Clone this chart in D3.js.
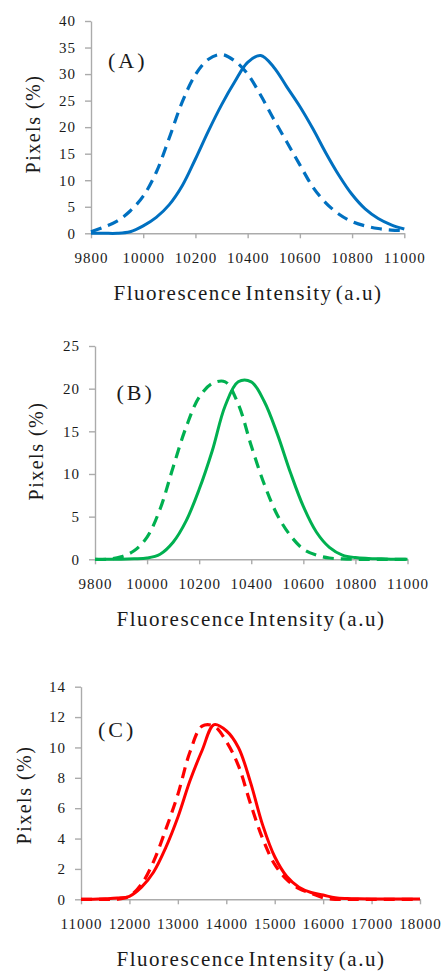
<!DOCTYPE html>
<html>
<head>
<meta charset="utf-8">
<script src="https://cdn.jsdelivr.net/npm/d3@7/dist/d3.min.js"></script>
<style>
  html, body { margin: 0; padding: 0; background: #ffffff; }
  svg { display: block; }
  svg text { font-family: "Liberation Serif", "DejaVu Serif", "Times New Roman", serif; }
</style>
</head>
<body>
<script>
// ---------------- DATA ----------------
const panelLabels = ["(A)", "(B)", "(C)"];
const xTitle = "Fluorescence Intensity (a.u)";
const yTitle = "Pixels (%)";

const xTicksAB = [9800, 10000, 10200, 10400, 10600, 10800, 11000];
const xTicksC = [11000, 12000, 13000, 14000, 15000, 16000, 17000, 18000];
const yTicksA = [0, 5, 10, 15, 20, 25, 30, 35, 40];
const yTicksB = [0, 5, 10, 15, 20, 25];
const yTicksC = [0, 2, 4, 6, 8, 10, 12, 14];

const intensityAB = [9800, 9850, 9900, 9950, 10000, 10050, 10100, 10150, 10200, 10250,
  10300, 10350, 10400, 10450, 10500, 10550, 10600, 10650, 10700, 10750,
  10800, 10850, 10900, 10950, 11000];

const solidA = [0, 0, 0, 0.3, 1.4, 3.0, 5.4, 9.0, 14.0, 19.3,
  24.2, 28.5, 32.2, 33.5, 31.3, 27.6, 23.9, 19.7, 15.1, 10.9,
  7.3, 4.6, 2.8, 1.6, 0.8];
const dashedA = [0.3, 1.2, 2.3, 4.2, 7, 11.5, 18, 24.8, 29.9, 32.8,
  33.7, 32.5, 30, 26, 21.5, 17.2, 12.9, 8.7, 5.7, 3.6,
  2.2, 1.4, 0.9, 0.6, 0.5];

const solidB = [0, 0, 0, 0.05, 0.15, 0.6, 2.0, 4.5, 8.2, 12.7,
  18, 20.8, 20.8, 18.5, 14.7, 10.2, 6.2, 3.2, 1.4, 0.5,
  0.2, 0.1, 0.05, 0, 0];
const dashedB = [0, 0, 0.3, 1.0, 2.6, 5.9, 10.8, 15.5, 19, 20.6,
  20.8, 18.2, 13.3, 8.8, 5.2, 2.8, 1.2, 0.5, 0.15, 0.05,
  0, 0, 0, 0, 0];

const intensityC = [11000, 11250, 11500, 11750, 12000, 12250, 12500, 12750, 13000, 13250,
  13500, 13750, 14000, 14250, 14500, 14750, 15000, 15250, 15500, 15750,
  16000, 16250, 16500, 16750, 17000, 17250, 17500, 17750, 18000];
const solidC = [0, 0, 0.03, 0.08, 0.2, 0.8, 1.8, 3.4, 5.4, 7.8,
  9.8, 11.5, 11.1, 10, 7.7, 4.9, 2.8, 1.5, 0.8, 0.45,
  0.28, 0.1, 0.05, 0.03, 0.02, 0.02, 0.02, 0.02, 0.02];
const dashedC = [0, 0, 0, 0, 0.2, 1.0, 2.5, 4.6, 6.9, 9.7,
  11.4, 11.4, 10.4, 8.8, 6.3, 4.0, 2.3, 1.3, 0.7, 0.4,
  0.1, 0, 0, 0, 0, 0, 0, 0, 0];

const colors = ["#0070C0", "#00B050", "#FF0000"];

// ---------------- LAYOUT ----------------
const W = 441, H = 975;
const svg = d3.select("body").append("svg").attr("width", W).attr("height", H);

const panels = [
  { label: panelLabels[0], xTicks: xTicksAB, yTicks: yTicksA, xs: intensityAB, solid: solidA, dashed: dashedA, color: colors[0],
    left: 91, right: 404.3, top: 21, bottom: 233.3, labelX: 108, labelY: 68, yTitleX: 40, yTitleY: 124, xTitleX: 248 },
  { label: panelLabels[1], xTicks: xTicksAB, yTicks: yTicksB, xs: intensityAB, solid: solidB, dashed: dashedB, color: colors[1],
    left: 95, right: 407.5, top: 346, bottom: 559.3, labelX: 116.5, labelY: 399.5, yTitleX: 43, yTitleY: 451, xTitleX: 251 },
  { label: panelLabels[2], xTicks: xTicksC, yTicks: yTicksC, xs: intensityC, solid: solidC, dashed: dashedC, color: colors[2],
    left: 81, right: 420, top: 686.7, bottom: 899.3, labelX: 98, labelY: 737, yTitleX: 31, yTitleY: 795, xTitleX: 251 }
];

const serif = "Liberation Serif, DejaVu Serif, serif";
const textColor = "#1a1a1a";
const axisColor = "#ABABAB";

panels.forEach(p => {
  const x = d3.scaleLinear()
    .domain([p.xTicks[0], p.xTicks[p.xTicks.length - 1]])
    .range([p.left, p.right]);
  const y = d3.scaleLinear()
    .domain([0, p.yTicks[p.yTicks.length - 1]])
    .range([p.bottom, p.top]);

  const gy = svg.append("g")
    .attr("transform", `translate(${p.left},0)`)
    .call(d3.axisLeft(y).tickValues(p.yTicks).tickSize(6).tickSizeOuter(0).tickPadding(9).tickFormat(d3.format("d")));
  const gx = svg.append("g")
    .attr("transform", `translate(0,${p.bottom})`)
    .call(d3.axisBottom(x).tickValues(p.xTicks).tickSize(5).tickSizeOuter(0).tickFormat(d3.format("d")));

  [gx, gy].forEach(g => {
    g.attr("font-family", serif).attr("font-size", 15);
    g.select(".domain").attr("stroke", axisColor).attr("stroke-width", 1.4);
    g.selectAll(".tick line").attr("stroke", axisColor).attr("stroke-width", 1.4);
    g.selectAll(".tick text")
      .attr("fill", textColor)
      .attr("font-family", serif)
      .attr("font-size", 15)
      .style("letter-spacing", "1px");
  });
  gx.selectAll(".tick text").attr("y", 30).attr("dy", null);

  const line = d3.line()
    .x((d, i) => x(p.xs[i]))
    .y(d => y(d))
    .curve(d3.curveCatmullRom.alpha(0.5));

  svg.append("path")
    .datum(p.dashed)
    .attr("d", line)
    .attr("fill", "none")
    .attr("stroke", p.color)
    .attr("stroke-width", 3.2)
    .attr("stroke-dasharray", "11,7")
    .attr("stroke-linecap", "butt");

  svg.append("path")
    .datum(p.solid)
    .attr("d", line)
    .attr("fill", "none")
    .attr("stroke", p.color)
    .attr("stroke-width", 3)
    .attr("stroke-linejoin", "round");

  svg.append("text")
    .attr("x", p.labelX)
    .attr("y", p.labelY)
    .attr("fill", textColor)
    .attr("font-family", serif)
    .attr("font-size", 22)
    .style("letter-spacing", "3px")
    .text(p.label);

  svg.append("text")
    .attr("transform", `translate(${p.yTitleX},${p.yTitleY}) rotate(-90)`)
    .attr("text-anchor", "middle")
    .attr("fill", textColor)
    .attr("font-family", serif)
    .attr("font-size", 20)
    .style("letter-spacing", "1.5px")
    .text(yTitle);

  svg.append("text")
    .attr("x", p.xTitleX)
    .attr("y", p.bottom + 67)
    .attr("text-anchor", "middle")
    .attr("fill", textColor)
    .attr("font-family", serif)
    .attr("font-size", 21)
    .style("letter-spacing", "1.5px")
    .style("word-spacing", "-3.5px")
    .text(xTitle);
});
</script>
</body>
</html>
